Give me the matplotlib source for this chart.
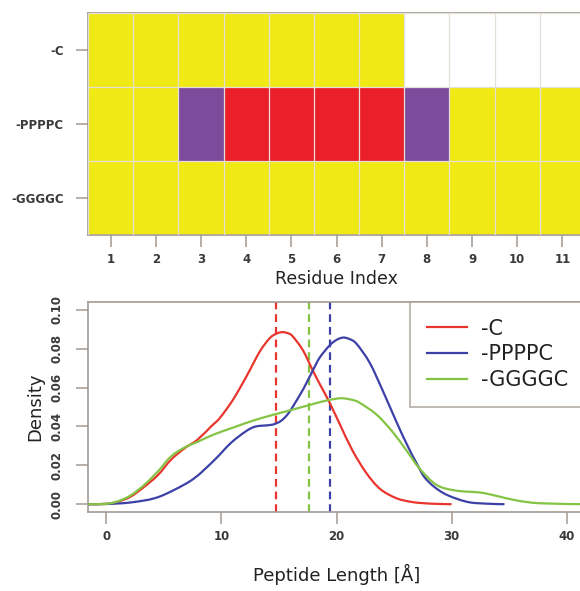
import numpy as np
import matplotlib
matplotlib.use("Agg")
import matplotlib.pyplot as plt
from matplotlib.colors import ListedColormap
from matplotlib.path import Path
from matplotlib.patches import PathPatch
from matplotlib.lines import Line2D

# ---------------- data ----------------
peptides = ["-C", "-PPPPC", "-GGGGC"]
residues = list(range(1, 12))
# 0 = yellow, 1 = red, 2 = purple, nan = no residue
state_C = [0, 0, 0, 0, 0, 0, 0, np.nan, np.nan, np.nan, np.nan]
state_PPPPC = [0, 0, 2, 1, 1, 1, 1, 2, 0, 0, 0]
state_GGGGC = [0, 0, 0, 0, 0, 0, 0, 0, 0, 0, 0]

red_x = [-1.6, 0, 1.0, 2.1, 3.3, 4.5, 5.6, 6.8, 7.9, 9.1, 9.85, 11.0, 12.17, 13.33, 14.2, 14.8,
         15.3, 15.8, 16.2, 17.1, 18.0, 18.8, 19.42, 20.3, 21.4, 22.6, 23.8, 25.2, 26.4, 27.4,
         28.6, 30.0]
red_y = [0, 0.0002, 0.0013, 0.0039, 0.009, 0.0151, 0.0228, 0.0288, 0.0331, 0.040, 0.0443,
         0.0537, 0.0657, 0.0785, 0.0854, 0.0878, 0.0885, 0.0879, 0.0863, 0.079, 0.068, 0.059,
         0.052, 0.041, 0.0275, 0.016, 0.0078, 0.0031, 0.0013, 0.0006, 0.0002, 0.0]

blue_x = [-1.6, 0, 2.1, 4.2, 5.9, 7.65, 9.4, 10.8, 12.1, 13.0, 14.6, 15.65, 16.8, 17.4, 17.97,
          18.55, 19.42, 20.0, 20.57, 21.1, 21.74, 22.9, 24.05, 25.2, 26.1, 26.96, 27.8, 29.3,
          31.3, 33.0, 34.6]
blue_y = [0, 0.0001, 0.0009, 0.0031, 0.0074, 0.0134, 0.0228, 0.0314, 0.0374, 0.040, 0.0412,
          0.0455, 0.056, 0.0625, 0.0691, 0.0755, 0.0818, 0.0845, 0.0857, 0.085, 0.0825, 0.0726,
          0.058, 0.0425, 0.031, 0.0211, 0.0128, 0.0057, 0.0013, 0.0003, 0.0]

green_x = [-1.6, 0, 1.0, 2.1, 3.3, 4.5, 5.6, 6.8, 7.9, 8.8, 9.85, 11.3, 12.75, 14.5, 15.65, 17.7,
           18.55, 19.7, 20.5, 21.4, 22.0, 23.5, 24.9, 26.1, 27.2, 28.7, 30.4, 32.5, 33.9, 35.7,
           37.7, 41.6]
green_y = [0, 0.0002, 0.0015, 0.0045, 0.010, 0.017, 0.0245, 0.0292, 0.032, 0.0345, 0.037, 0.040,
           0.043, 0.046, 0.0478, 0.0511, 0.0525, 0.054, 0.0545, 0.0536, 0.0522, 0.046, 0.037,
           0.0275, 0.0185, 0.0099, 0.007, 0.006, 0.0043, 0.0019, 0.0005, 0.0]

means = [14.78, 19.42, 17.6]   # -C, -PPPPC, -GGGGC
series_names = ["-C", "-PPPPC", "-GGGGC"]
line_colors = ["#e8362e", "#3d40a6", "#84c444"]
x_ticks = [0, 10, 20, 30, 40]
y_ticks = [0.00, 0.02, 0.04, 0.06, 0.08, 0.10]

# ---------------- style ----------------
plt.rcParams['font.family'] = ['DejaVu Sans']
frame_col = "#a39a92"
tick_lab_col = "#3a3a3a"

fig = plt.figure(figsize=(5.8, 5.91), dpi=100)
W, H = 580, 591
def fr(x0, y0, x1, y1):
    return [x0 / W, 1 - y1 / H, (x1 - x0) / W, (y1 - y0) / H]


def smooth_path(xs, ys):
    """Smooth Bezier path through the read points (Catmull-Rom style tangents)."""
    p = np.column_stack([xs, ys]).astype(float)
    n = len(p)
    verts = [p[0]]
    codes = [Path.MOVETO]
    for i in range(n - 1):
        p0 = p[i - 1] if i > 0 else p[i]
        p3 = p[i + 2] if i + 2 < n else p[i + 1]
        c1 = p[i] + (p[i + 1] - p0) / 6.0
        c2 = p[i + 1] - (p3 - p[i]) / 6.0
        c1[1] = max(c1[1], 0.0)
        c2[1] = max(c2[1], 0.0)
        verts += [c1, c2, p[i + 1]]
        codes += [Path.CURVE4] * 3
    return Path(verts, codes)

# ---------------- heatmap ----------------
ax1 = fig.add_axes(fr(88, 13, 585, 235))
grid = np.ma.masked_invalid(np.array([state_C, state_PPPPC, state_GGGGC], dtype=float))
cmap = ListedColormap(["#f1e914", "#ea1f29", "#7c4b9c"])
cmap.set_bad("white")
xe = np.arange(0.5, len(residues) + 1, 1.0)
ye = np.arange(0.5, len(peptides) + 1, 1.0)
ax1.pcolormesh(xe, ye, grid, cmap=cmap, vmin=-0.5, vmax=2.5)
ax1.vlines(xe, ye[0], ye[-1], colors="#e2e0d8", linewidth=0.9, zorder=3)
ax1.hlines(ye, xe[0], xe[-1], colors="#e2e0d8", linewidth=0.9, zorder=3)
ax1.set_xlim(0.5, 11.5)
ax1.set_ylim(3.5, 0.5)
ax1.set_xticks(residues)
ax1.set_yticks([1, 2, 3])
ax1.set_yticklabels(peptides)
ax1.set_xlabel("Residue Index", fontsize=12.5, color="#222222", labelpad=3)

# ---------------- density ----------------
ax2 = fig.add_axes(fr(88, 302, 585, 512))
data = [(red_x, red_y), (blue_x, blue_y), (green_x, green_y)]
handles = []
for (xs, ys), c, nm in zip(data, line_colors, series_names):
    ax2.add_patch(PathPatch(smooth_path(xs, ys), facecolor="none", edgecolor=c, lw=1.6,
                            zorder=3))
    handles.append(Line2D([], [], color=c, lw=1.6, label=nm))
for m, c in zip(means, line_colors):
    ax2.axvline(m, color=c, lw=1.6, linestyle=(0, (3.5, 2.2)), zorder=2)
ax2.set_xlim(-1.6, 41.6)
ax2.set_ylim(-0.004, 0.104)
ax2.set_xticks(x_ticks)
ax2.set_yticks(y_ticks)
ax2.set_yticklabels([f"{v:.2f}" for v in y_ticks], rotation=90, va="center")
ax2.set_ylabel("Density", fontsize=13, color="#222222", labelpad=5)
ax2.set_xlabel("Peptide Length [Å]", fontsize=13, color="#222222", labelpad=15)
leg = ax2.legend(handles=handles, loc="upper right", fontsize=15, frameon=True, fancybox=False,
                 borderaxespad=0, handlelength=1.9, handletextpad=0.7,
                 labelspacing=0.28, borderpad=0.8)
leg.get_frame().set_edgecolor(frame_col)
leg.get_frame().set_linewidth(1.2)
for t in leg.get_texts():
    t.set_color("#222222")

for ax in (ax1, ax2):
    for s in ax.spines.values():
        s.set_color(frame_col)
        s.set_linewidth(1.2)
    ax.tick_params(axis="both", direction="out", length=8.5, width=1.1, color=frame_col,
                   labelsize=8.5, labelcolor=tick_lab_col)
    ax.tick_params(axis="x", pad=4.5)
    ax.tick_params(axis="y", pad=9)
    for lab in ax.get_xticklabels() + ax.get_yticklabels():
        lab.set_fontweight("bold")

fig.savefig("out.png", dpi=100)
